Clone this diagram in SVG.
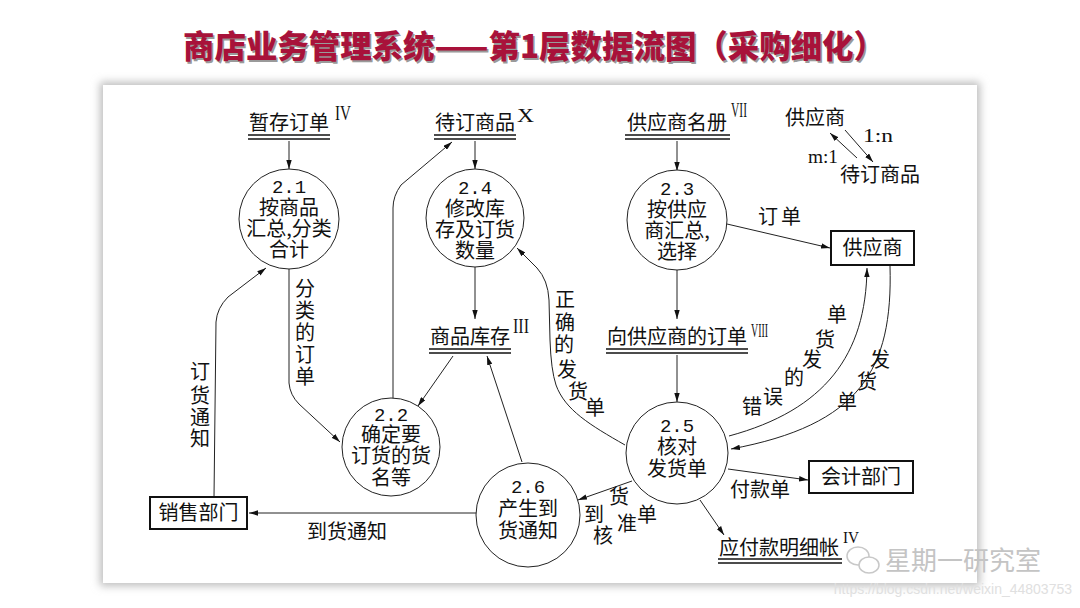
<svg xmlns="http://www.w3.org/2000/svg" width="1080" height="608" viewBox="0 0 1080 608">
<defs>
<filter id="sh" x="-5%" y="-5%" width="110%" height="110%"><feGaussianBlur stdDeviation="4"/></filter>
<marker id="ah" viewBox="0 0 10 6" refX="10" refY="3" markerWidth="9" markerHeight="5.5" orient="auto" markerUnits="userSpaceOnUse"><path d="M0,0 L10,3 L0,6 z" fill="#111"/></marker>
</defs>
<style>
.t{font-family:"Noto Sans CJK SC",sans-serif;font-size:20px;fill:#111}
.c{text-anchor:middle}
.n{font-family:"Liberation Mono",monospace;font-size:19px}
.r{font-family:"Liberation Serif",serif;fill:#111}
.ln{fill:none;stroke:#222;stroke-width:1}
.ar{marker-end:url(#ah)}
.proc circle{fill:#fff;stroke:#222;stroke-width:1}
.box{fill:#fff;stroke:#111;stroke-width:2}
.ul{stroke:#111;stroke-width:1.4}
.ttl{font-family:"Noto Sans CJK SC",sans-serif;font-size:32px;font-weight:900}
.wm{font-family:"Noto Sans CJK SC",sans-serif;fill:#c4c4c4}
</style>
<rect width="1080" height="608" fill="#fff"/>
<rect x="100" y="82" width="880" height="504" fill="#bdbdbd" filter="url(#sh)"/>
<rect x="103" y="85" width="874" height="498" fill="#fff"/>

<g id="title">
<text class="ttl" x="184.5" y="59.5" fill="#9a9a9a" textLength="702" lengthAdjust="spacingAndGlyphs">商店业务管理系统——第1层数据流图（采购细化）</text>
<text class="ttl" x="183" y="58" fill="#a8123a" textLength="702" lengthAdjust="spacingAndGlyphs">商店业务管理系统——第1层数据流图（采购细化）</text>
</g>

<g id="connectors">
<path class="ln ar" d="M289,141 L289,169"/>
<path class="ln ar" d="M475,141 L475,169"/>
<path class="ln ar" d="M677,141 L677,171"/>
<path class="ln ar" d="M475,267 L475,319"/>
<path class="ln ar" d="M677,270 L677,319"/>
<path class="ln ar" d="M677,355 L677,402"/>
<path class="ln ar" d="M393,399 L393,208 Q393,196 401,185 L452,142"/>
<path class="ln ar" d="M214,497 L216,322 Q217,308 228,297 L266,268"/>
<path class="ln ar" d="M289,268 L289,383 Q290,395 299,404 L340,442"/>
<path class="ln ar" d="M453,356 L418,406"/>
<path class="ln ar" d="M522,462 L487,356"/>
<path class="ln ar" d="M625,445 C590,425 565,410 556,385 Q551,370 550,340 L549,300 Q548,280 537,268 L517,248"/>
<path class="ln ar" d="M727,224 L830,248"/>
<path class="ln ar" d="M890,266 C893,370 860,425 731,449"/>
<path class="ln ar" d="M729,436 C825,410 866,355 867,268"/>
<path class="ln ar" d="M728,469 L808,480"/>
<path class="ln ar" d="M700,500 L724,535"/>
<path class="ln ar" d="M632,481 L578,500"/>
<path class="ln ar" d="M476,513 L249,513"/>
<path class="ln ar" d="M845,130 L873,162"/>
<path class="ln ar" d="M857,158 L830,133"/>
</g>

<g id="labels">
<text class="t" x="758" y="224" letter-spacing="3">订单</text>
<text class="t" x="730" y="497">付款单</text>
<text class="t" x="307" y="539">到货通知</text>
<text class="t c"><tspan x="200" y="379">订</tspan><tspan x="200" y="403">货</tspan><tspan x="200" y="425">通</tspan><tspan x="200" y="446">知</tspan></text>
<text class="t c"><tspan x="305" y="296">分</tspan><tspan x="305" y="318">类</tspan><tspan x="305" y="340">的</tspan><tspan x="305" y="362">订</tspan><tspan x="305" y="384">单</tspan></text>
<text class="t c"><tspan x="565" y="307">正</tspan><tspan x="565" y="330">确</tspan><tspan x="564" y="352">的</tspan><tspan x="567" y="377">发</tspan><tspan x="578" y="399">货</tspan><tspan x="595" y="415">单</tspan></text>
<text class="t c"><tspan x="880" y="367">发</tspan><tspan x="867" y="389">货</tspan><tspan x="847" y="409">单</tspan></text>
<text class="t c"><tspan x="752" y="414">错</tspan><tspan x="773" y="404">误</tspan><tspan x="794" y="385">的</tspan><tspan x="812" y="367">发</tspan><tspan x="825" y="347">货</tspan><tspan x="837" y="322">单</tspan></text>
<text class="t c"><tspan x="619" y="504">货</tspan><tspan x="647" y="522">单</tspan><tspan x="594" y="522">到</tspan><tspan x="627" y="531">准</tspan><tspan x="603" y="543">核</tspan></text>
</g>

<g id="p21" class="proc"><circle cx="289" cy="219" r="50"/>
<text class="t c"><tspan class="n" x="289" y="193">2.1</tspan><tspan x="289" y="215">按商品</tspan><tspan x="289" y="236">汇总,分类</tspan><tspan x="289" y="257">合计</tspan></text></g>
<g id="p24" class="proc"><circle cx="475" cy="218" r="49"/>
<text class="t c"><tspan class="n" x="475" y="194">2.4</tspan><tspan x="475" y="216">修改库</tspan><tspan x="475" y="237">存及订货</tspan><tspan x="475" y="258">数量</tspan></text></g>
<g id="p23" class="proc"><circle cx="677" cy="220" r="50"/>
<text class="t c"><tspan class="n" x="677" y="195">2.3</tspan><tspan x="677" y="217">按供应</tspan><tspan x="677" y="238">商汇总,</tspan><tspan x="677" y="259">选择</tspan></text></g>
<g id="p22" class="proc"><circle cx="391" cy="447" r="49"/>
<text class="t c"><tspan class="n" x="391" y="421">2.2</tspan><tspan x="391" y="442">确定要</tspan><tspan x="391" y="463">订货的货</tspan><tspan x="391" y="485">名等</tspan></text></g>
<g id="p25" class="proc"><circle cx="677" cy="453" r="51"/>
<text class="t c"><tspan class="n" x="677" y="432">2.5</tspan><tspan x="677" y="454">核对</tspan><tspan x="677" y="476">发货单</tspan></text></g>
<g id="p26" class="proc"><circle cx="528" cy="515" r="52"/>
<text class="t c"><tspan class="n" x="528" y="493">2.6</tspan><tspan x="528" y="516">产生到</tspan><tspan x="528" y="538">货通知</tspan></text></g>

<g id="s_zancun"><text class="t c" x="289" y="130">暂存订单</text><line class="ul" x1="248" y1="135" x2="330" y2="135"/><line class="ul" x1="248" y1="139" x2="330" y2="139"/><text class="r" x="335" y="120" font-size="21" textLength="16" lengthAdjust="spacingAndGlyphs">IV</text></g>
<g id="s_daiding"><text class="t c" x="475" y="130">待订商品</text><line class="ul" x1="434" y1="135" x2="516" y2="135"/><line class="ul" x1="434" y1="139" x2="516" y2="139"/><text class="r" x="517" y="122" font-size="19" textLength="17" lengthAdjust="spacingAndGlyphs">X</text></g>
<g id="s_gys"><text class="t c" x="677" y="130">供应商名册</text><line class="ul" x1="625" y1="135" x2="730" y2="135"/><line class="ul" x1="625" y1="139" x2="730" y2="139"/><text class="r" x="731" y="117" font-size="21" textLength="16" lengthAdjust="spacingAndGlyphs">VII</text></g>
<g id="s_kucun"><text class="t c" x="470" y="344">商品库存</text><line class="ul" x1="429" y1="349" x2="511" y2="349"/><line class="ul" x1="429" y1="353" x2="511" y2="353"/><text class="r" x="513" y="333" font-size="21" textLength="16" lengthAdjust="spacingAndGlyphs">III</text></g>
<g id="s_xgys"><text class="t c" x="677" y="344">向供应商的订单</text><line class="ul" x1="606" y1="349" x2="748" y2="349"/><line class="ul" x1="606" y1="353" x2="748" y2="353"/><text class="r" x="751" y="337" font-size="18" textLength="17" lengthAdjust="spacingAndGlyphs">VIII</text></g>
<g id="s_yfk"><text class="t c" x="779" y="555">应付款明细帐</text><line class="ul" x1="718" y1="559" x2="842" y2="559"/><line class="ul" x1="718" y1="563" x2="842" y2="563"/><text class="r" x="843" y="543" font-size="16" textLength="16" lengthAdjust="spacingAndGlyphs">IV</text></g>

<g id="e_gys"><rect class="box" x="831" y="231" width="83" height="34"/><text class="t c" x="872.5" y="255">供应商</text></g>
<g id="e_kj"><rect class="box" x="809" y="461" width="104" height="32"/><text class="t c" x="861" y="484">会计部门</text></g>
<g id="e_xs"><rect class="box" x="150" y="497" width="97" height="32"/><text class="t c" x="198.5" y="520">销售部门</text></g>

<g id="er_note">
<text class="t" x="785" y="125">供应商</text>
<text class="t" x="840" y="182">待订商品</text>
<text class="r" x="863" y="142" font-size="19" textLength="30" lengthAdjust="spacingAndGlyphs">1:n</text>
<text class="r" x="808" y="163" font-size="19" textLength="30" lengthAdjust="spacingAndGlyphs">m:1</text>
</g>

<g id="watermark">
<ellipse cx="858" cy="556" rx="11" ry="9" fill="#fff" stroke="#c8c8c8" stroke-width="1.5"/>
<ellipse cx="869" cy="565" rx="10" ry="8" fill="#fff" stroke="#c8c8c8" stroke-width="1.5"/>
<text class="wm" x="885" y="570" font-size="26">星期一研究室</text>
<text x="1072" y="594" text-anchor="end" font-family="Liberation Sans, sans-serif" font-size="14" fill="#e0e0e0">https://blog.csdn.net/weixin_44803753</text>
</g>
</svg>
